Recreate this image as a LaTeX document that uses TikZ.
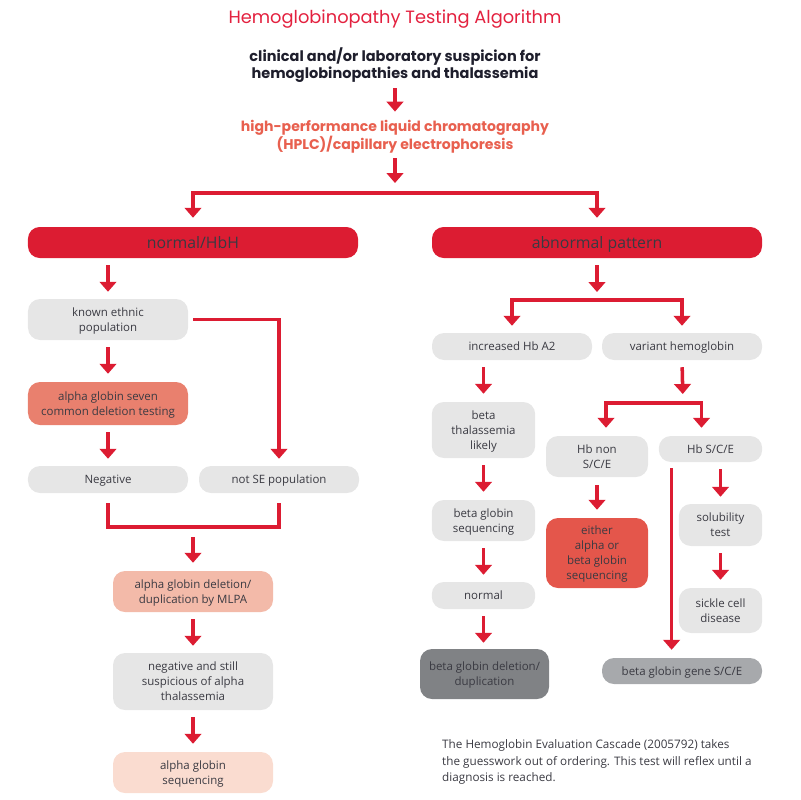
\documentclass[tikz,border=0pt]{standalone}
\usepackage{fontspec}
\setmainfont{Open Sans}
\newfontfamily\headfont{Poppins}
\usetikzlibrary{arrows.meta}

\definecolor{hemored}{HTML}{DC1C32}
\definecolor{titlered}{HTML}{E3213F}
\definecolor{hplcred}{HTML}{E8604F}
\definecolor{boxgrey}{HTML}{E6E6E6}
\definecolor{salmon}{HTML}{E9806E}
\definecolor{peach}{HTML}{F3BAA9}
\definecolor{palepeach}{HTML}{FADCD0}
\definecolor{brightsalmon}{HTML}{E4564B}
\definecolor{midgrey}{HTML}{A7A9AC}
\definecolor{darkgrey}{HTML}{808285}
\definecolor{textdark}{HTML}{3A3A42}
\definecolor{headdark}{HTML}{1E1E2C}

\begin{document}
\begin{tikzpicture}[
    x=0.3mm, y=-0.3mm,
    arr/.style={draw=hemored, line width=3pt, -{Triangle[length=3mm,width=5mm]}},
    fork/.style={draw=hemored, line width=3pt, {Triangle[length=3mm,width=5mm]}-{Triangle[length=3mm,width=5mm]}},
    link/.style={draw=hemored, line width=3pt},
    box/.style={rectangle, rounded corners=3.6mm, fill=boxgrey, text=textdark, align=center, inner sep=1pt, text depth=-8pt, font=\fontsize{9.8}{12.8}\selectfont},
    bar/.style={box, fill=hemored, rounded corners=3.5mm, minimum width=99mm, minimum height=9.3mm, font=\fontsize{13.5}{15}\selectfont},
    headtext/.style={align=center, inner sep=0pt, minimum height=12mm, text=headdark, font=\headfont\bfseries\fontsize{12.4}{14.5}\selectfont}
]
\useasboundingbox (0,0) rectangle (800,800);

% title and first steps
\node[text=titlered, font=\headfont\fontsize{15.2}{17}\selectfont] (title) at (395,19) {Hemoglobinopathy Testing Algorithm};
\node[headtext] (clin) at (395,65.5) {clinical and/or laboratory suspicion for\\hemoglobinopathies and thalassemia};
\node[headtext, text=hplcred, font=\headfont\bfseries\fontsize{12}{14.5}\selectfont] (hplc) at (395,136.5) {high-performance liquid chromatography\\(HPLC)/capillary electrophoresis};
\coordinate (topfork) at (395,193);

\node[bar] (hbh) at (193,242.5) {normal/HbH};
\node[bar] (abn) at (597,242.5) {abnormal pattern};

% left side
\node[box, minimum width=48mm, minimum height=12.3mm] (ethnic) at (108,319.5) {known ethnic\\population};
\node[box, fill=salmon, minimum width=48mm, minimum height=12.9mm] (seven) at (108,403.5) {alpha globin seven\\common deletion testing};
\node[box, minimum width=48mm, minimum height=8.1mm] (neg) at (108,479.5) {Negative};
\node[box, minimum width=48mm, minimum height=8.1mm] (notse) at (279,479.5) {not SE population};
\coordinate (join) at (193,527);
\node[box, fill=peach, minimum width=48mm, minimum height=12.3mm] (mlpa) at (193,591.5) {alpha globin deletion/\\duplication by MLPA};
\node[box, minimum width=48mm, minimum height=17.1mm] (still) at (193,681.5) {negative and still\\suspicious of alpha\\thalassemia};
\node[box, fill=palepeach, minimum width=48mm, minimum height=12.3mm] (aseq) at (193,772.5) {alpha globin\\sequencing};

% right side
\coordinate (rfork) at (597,300);
\node[box, minimum width=48mm, minimum height=8.1mm] (incr) at (512,346.5) {increased Hb A2};
\node[box, minimum width=48mm, minimum height=8.1mm] (variant) at (682,346.5) {variant hemoglobin};
\node[box, minimum width=31mm, minimum height=16.8mm] (likely) at (483.5,430) {beta\\thalassemia\\likely};
\coordinate (vfork) at (683,403);
\node[box, minimum width=30.6mm, minimum height=12.3mm] (hbnon) at (597,456.5) {Hb non\\S/C/E};
\node[box, minimum width=31mm, minimum height=7.8mm] (hbsce) at (710.5,449) {Hb S/C/E};
\node[box, minimum width=31mm, minimum height=12.3mm] (bseq) at (483.5,520.5) {beta globin\\sequencing};
\node[box, fill=brightsalmon, minimum width=30.6mm, minimum height=21mm] (either) at (597,553) {either\\alpha or\\beta globin\\sequencing};
\node[box, minimum width=25mm, minimum height=12.6mm] (solub) at (720.5,525) {solubility\\test};
\node[box, minimum width=25mm, minimum height=13.5mm] (sickle) at (720.5,610.5) {sickle cell\\disease};
\node[box, minimum width=31mm, minimum height=8.1mm] (normal) at (483.5,595.5) {normal};
\node[box, fill=darkgrey, minimum width=38.7mm, minimum height=15mm] (bdel) at (484.5,674) {beta globin deletion/\\duplication};
\node[box, fill=midgrey, minimum width=48mm, minimum height=7.8mm] (gene) at (682,671) {beta globin gene S/C/E};

\node[anchor=west, align=left, inner sep=0pt, text=textdark, font=\fontsize{10}{14.4}\selectfont] (note) at (442,762) {The Hemoglobin Evaluation Cascade (2005792) takes\\the guesswork out of ordering. This test will reflex until a\\diagnosis is reached.};

% top arrows
\draw[arr, shorten <=0.8mm, shorten >=1.4mm] (clin.south) -- (hplc.north);
\draw[arr, shorten <=0.5mm, shorten >=3mm] (hplc.south) -- (topfork);
\draw[fork, shorten <=2.7mm, shorten >=2.7mm] (hbh.north) |- (topfork) -| (abn.north);

% left arrows
\draw[arr, shorten <=2.1mm, shorten >=2.1mm] (hbh.south -| ethnic.north) -- (ethnic.north);
\draw[arr, shorten <=2.1mm, shorten >=2.4mm] (ethnic.south) -- (seven.north);
\draw[arr, shorten <=2.1mm, shorten >=2.1mm] (seven.south) -- (neg.north);
\draw[arr, shorten <=1.5mm, shorten >=2.1mm] (ethnic.east) -| (notse.north);
\draw[link, shorten <=3mm, shorten >=3mm] (neg.south) |- (join) -| (notse.south);
\draw[arr, shorten <=3mm, shorten >=2.4mm] (join) -- (mlpa.north);
\draw[arr, shorten <=2.1mm, shorten >=2.1mm] (mlpa.south) -- (still.north);
\draw[arr, shorten <=2.1mm, shorten >=2.4mm] (still.south) -- (aseq.north);

% right arrows
\draw[arr, shorten <=2.1mm, shorten >=2.4mm] (abn.south) -- (rfork);
\draw[fork, shorten <=2.1mm, shorten >=2.1mm] (incr.north) |- (rfork) -| (variant.north);
\draw[arr, shorten <=2.1mm, shorten >=2.4mm] (incr.south -| likely.north) -- (likely.north);
\draw[arr, shorten <=2.1mm, shorten >=2.7mm] (variant.south) -- (vfork);
\draw[fork, shorten <=2.4mm, shorten >=2.4mm] ([xshift=2.7mm]hbnon.north) |- (vfork) -| ([xshift=-2.7mm]hbsce.north);
\draw[arr, shorten <=2.1mm, shorten >=2.4mm] (likely.south) -- (bseq.north);
\draw[arr, shorten <=2.1mm, shorten >=2.1mm] (bseq.south) -- (normal.north);
\draw[arr, shorten <=2.1mm, shorten >=1.8mm] (normal.south) -- (bdel.north -| normal.south);
\draw[arr, shorten <=2.4mm, shorten >=2.4mm] (hbnon.south) -- (either.north);
\draw[arr, shorten <=2.1mm, shorten >=2.1mm] (hbsce.south -| solub.north) -- (solub.north);
\draw[arr, shorten <=2.1mm, shorten >=2.4mm] (solub.south) -- (sickle.north);
\draw[arr, shorten <=1.8mm, shorten >=2.4mm] ([xshift=3.9mm]hbsce.south west) -- ([xshift=3.9mm]hbsce.south west |- gene.north);
\end{tikzpicture}
\end{document}
